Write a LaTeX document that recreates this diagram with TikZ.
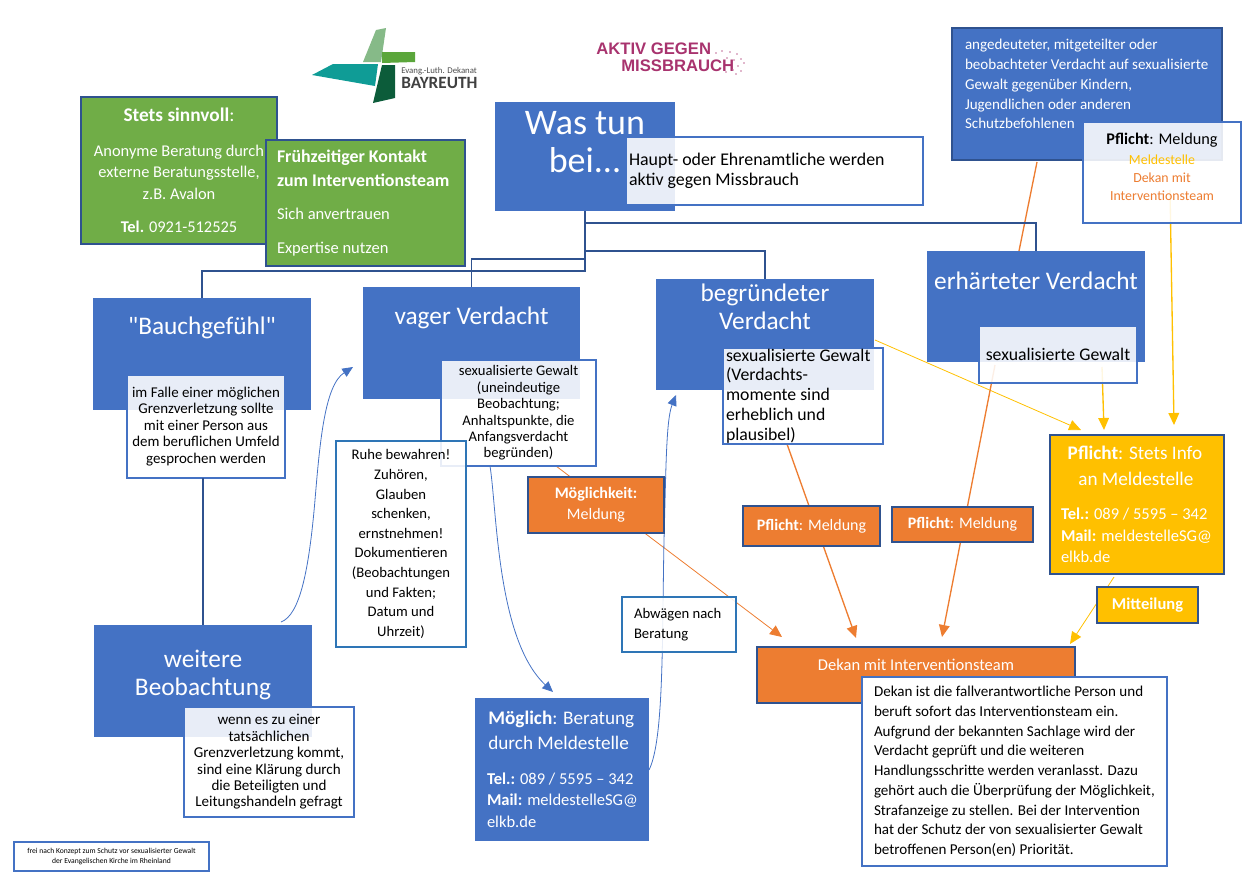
\documentclass[tikz,border=0pt]{standalone}
\usepackage{fontspec}
\setmainfont{Carlito}[Ligatures=TeXOff]
\usetikzlibrary{arrows.meta,backgrounds}

\definecolor{boxblue}{HTML}{4472C4}
\definecolor{darkblue}{HTML}{2F528F}
\definecolor{midblue}{HTML}{2E75B6}
\definecolor{boxgreen}{HTML}{70AD47}
\definecolor{boxorange}{HTML}{ED7D31}
\definecolor{boxyellow}{HTML}{FFC000}
\definecolor{aktivred}{HTML}{A8336E}
\definecolor{logolight}{HTML}{86BA88}
\definecolor{logogreen}{HTML}{5BA63B}
\definecolor{logoteal}{HTML}{0F9C96}
\definecolor{logodark}{HTML}{0C5C3A}
\newcommand{\fs}[2]{\fontsize{#1}{#2}\selectfont}

\tikzset{
  box/.style={anchor=north west, inner ysep=0pt, inner xsep=3pt, outer sep=0pt, align=center},
  boxsize/.style 2 args={minimum width=#1*.75pt, minimum height=#2*.75pt},
  lefttext/.style 2 args={inner xsep=#2*.75pt, text width=(#1-2*#2)*.75pt, align=flush left},
  bluebox/.style={box, fill=boxblue, text=white},
  greenbox/.style={box, fill=boxgreen, draw=darkblue, line width=1pt, text=white},
  orangebox/.style={box, fill=boxorange, draw=darkblue, line width=1pt, text=white},
  yellowbox/.style={box, fill=boxyellow, draw=darkblue, line width=1pt, text=white},
  whitebox/.style={box, fill=white, fill opacity=.88, text opacity=1, draw=boxblue, draw opacity=1, line width=1pt},
  notebox/.style={whitebox, draw=midblue},
  treeline/.style={draw=darkblue, line width=1pt},
  curveline/.style={draw=boxblue, line width=.6pt, -{Triangle[length=8pt,width=7pt]}},
  orangeline/.style={draw=boxorange, line width=1pt, -{Triangle[length=9pt,width=8pt]}},
  thinorange/.style={orangeline, line width=.6pt},
  yellowline/.style={draw=boxyellow, line width=1pt, -{Triangle[length=9pt,width=8pt]}},
  thinyellow/.style={yellowline, line width=.6pt},
}

\begin{document}
\begin{tikzpicture}[x=.75pt, y=-.75pt]
  \useasboundingbox (0,0) rectangle (1249,878);

  % Logos
  \fill[logolight] (363,62) -- (381,62) -- (386,28) -- (376,30) -- cycle;
  \fill[logogreen] (382,52) -- (415,52) -- (415,62) -- (382,63) -- cycle;
  \fill[logoteal] (312,75) -- (333,64) -- (378,64) -- (375,86) -- cycle;
  \fill[logodark] (382,65) -- (395,65) -- (395,98) -- (373,103) -- cycle;
  \node[anchor=west, inner sep=0pt, text=black!70, font=\fs{6.6}{7}] (dekanat) at (401,71.5) {Evang.-Luth. Dekanat};
  \node[anchor=west, inner sep=0pt, text=black!75, font=\fs{12.9}{13}\bfseries] (bayreuth) at (401,83) {BAYREUTH};
  \node[anchor=west, inner sep=0pt, text=aktivred, font=\fontspec{Liberation Sans}\fs{12.5}{13}\bfseries] (aktiv) at (596,49) {AKTIV GEGEN};
  \node[anchor=west, inner sep=0pt, text=aktivred, font=\fontspec{Liberation Sans}\fs{12.5}{13}\bfseries] (miss) at (621,65.5) {MISSBRAUCH};
  \foreach \x/\y in {716/53,722/51,730/52,737/54,727/58,734/60,741/59,738/66,744/63,733/70,726/72,736/74,741/71} {
    \fill[aktivred!70] (\x,\y) circle (.8);
  }

  % Green boxes
  \node[greenbox, boxsize={196}{147}, font=\fs{12.3}{16}] (sinnvoll) at (81,97) {%
    {\fs{14.5}{16}\textbf{Stets sinnvoll}:}\\[10pt]
    Anonyme Beratung durch\\
    externe Beratungsstelle,\\
    z.B. Avalon\\[9pt]
    \textbf{Tel.} 0921-512525};
  \node[greenbox, boxsize={199}{126}, lefttext={199}{11}, font=\fs{12.4}{18}] (kontakt) at (266,140) {%
    {\fs{13.4}{18}\textbf{Frühzeitiger Kontakt}}\\
    {\fs{13.4}{18}\textbf{zum Interventionsteam}}\\[7pt]
    Sich anvertrauen\\[7pt]
    Expertise nutzen};

  % Main question
  \node[bluebox, boxsize={180}{109}, font=\fs{27}{29}] (was) at (495,102) {Was tun\\bei...\\[-7pt]\mbox{}};
  \node[whitebox, boxsize={297}{68}, lefttext={297}{3}, font=\fs{13.4}{15}] (haupt) at (626,137) {%
    Haupt- oder Ehrenamtliche werden\\aktiv gegen Missbrauch};

  % Top right
  \node[bluebox, draw=darkblue, line width=1pt, boxsize={270}{132}, lefttext={270}{13}, font=\fs{11.3}{14.8}] (andeutung) at (952,28) {%
    angedeuteter, mitgeteilter oder\\
    beobachteter Verdacht auf sexualisierte\\
    Gewalt gegenüber Kindern,\\
    Jugendlichen oder anderen\\
    Schutzbefohlenen\\\mbox{}};
  \node[whitebox, boxsize={158}{101}, font=\fs{10.4}{13.5}] (pflichtoben) at (1083,122) {%
    {\fs{12.2}{15}\textbf{Pflicht}: Meldung}\\[1.5pt]
    \textcolor{boxyellow}{Meldestelle}\\
    \textcolor{boxorange}{Dekan mit}\\
    \textcolor{boxorange}{Interventionsteam}\\[-5pt]\mbox{}};

  % Four levels
  \node[bluebox, boxsize={218}{112}, font=\fs{19}{23}] (bauch) at (93,298) {"Bauchgefühl"\\[19pt]\mbox{}};
  \node[whitebox, boxsize={158}{103}, font=\fs{11.2}{12.4}] (bauchtxt) at (127,375) {%
    im Falle einer möglichen\\
    Grenzverletzung sollte\\
    mit einer Person aus\\
    dem beruflichen Umfeld\\
    gesprochen werden};

  \node[bluebox, boxsize={217}{112}, font=\fs{19}{23}] (vager) at (363,287) {vager Verdacht\\[18pt]\mbox{}};
  \node[whitebox, boxsize={155}{106}, font=\fs{11}{12.3}] (vagertxt) at (441,360) {%
    sexualisierte Gewalt\\
    (uneindeutige\\
    Beobachtung;\\
    Anhaltspunkte, die\\
    Anfangsverdacht\\
    begründen)};

  \node[bluebox, boxsize={218}{111}, font=\fs{19}{21}] (begr) at (656,279) {begründeter\\Verdacht\\[20pt]\mbox{}};
  \node[whitebox, boxsize={160}{96}, lefttext={160}{3}, font=\fs{13.3}{14.8}] (begrtxt) at (723,348) {%
    sexualisierte Gewalt\\
    (Verdachts-\\
    momente sind\\
    erheblich und\\
    plausibel)};

  \node[bluebox, boxsize={218}{111}, font=\fs{19}{23}] (erh) at (927,251) {erhärteter Verdacht\\[16pt]\mbox{}};
  \node[whitebox, boxsize={158}{57}, font=\fs{13.3}{15}] (erhtxt) at (979,326) {sexualisierte Gewalt};

  % Lower left
  \node[bluebox, boxsize={218}{112}, font=\fs{19}{21}] (weitere) at (94,625) {weitere\\Beobachtung\\[-9pt]\mbox{}};
  \node[whitebox, boxsize={170}{110}, font=\fs{11.3}{12.3}] (weiteretxt) at (184,707) {%
    wenn es zu einer\\
    tatsächlichen\\
    Grenzverletzung kommt,\\
    sind eine Klärung durch\\
    die Beteiligten und\\
    Leitungshandeln gefragt};
  \node[notebox, boxsize={130}{206}, font=\fs{11}{14.7}] (ruhe) at (336,441) {%
    Ruhe bewahren!\\
    Zuhören,\\
    Glauben\\
    schenken,\\
    ernstnehmen!\\
    Dokumentieren\\
    (Beobachtungen\\
    und Fakten;\\
    Datum und\\
    Uhrzeit)};

  % Reports
  \node[orangebox, boxsize={136}{56}, font=\fs{12}{16}] (moeglichkeit) at (528,477) {\textbf{Möglichkeit:}\\Meldung};
  \node[notebox, boxsize={114}{55}, lefttext={114}{12}, font=\fs{11}{14.7}] (abwaegen) at (622,597) {Abwägen nach\\Beratung};
  \node[orangebox, boxsize={137}{40}, font=\fs{12}{14}] (pflichteins) at (743,506) {\textbf{Pflicht}: Meldung};
  \node[orangebox, boxsize={141}{35}, font=\fs{12}{14}] (pflichtzwei) at (892,507) {\textbf{Pflicht}: Meldung};
  \node[yellowbox, boxsize={174}{139}, lefttext={174}{11}, font=\fs{12.4}{16}] (stelle) at (1050,435) {%
    \hspace*{5pt}{\fs{14.4}{18.7}\textbf{Pflicht}: Stets Info}\\[3pt]
    \hspace*{13pt}{\fs{14.4}{18.7}an Meldestelle}\\[10pt]
    \textbf{Tel.:} 089 / 5595 – 342\\
    \textbf{Mail:} meldestelleSG@\\
    elkb.de};
  \node[yellowbox, boxsize={101}{36}, font=\fs{12.4}{14}] (mitteilung) at (1097,587) {\textbf{Mitteilung}};
  \node[bluebox, draw=boxblue, boxsize={173}{142}, lefttext={173}{12}, font=\fs{12.4}{16}] (beratung) at (475,698) {%
    \hspace*{1pt}{\fs{14.4}{18.7}\textbf{Möglich}: Beratung}\\[3pt]
    \hspace*{1pt}{\fs{14.4}{18.7}durch Meldestelle}\\[10pt]
    \textbf{Tel.:} 089 / 5595 – 342\\
    \mbox{\textbf{Mail:} meldestelleSG@}\\
    elkb.de};

  % Dekan
  \node[orangebox, boxsize={318}{56}, font=\fs{12.4}{14}] (dekan) at (757,647) {Dekan mit Interventionsteam\\[2pt]\mbox{}};
  \node[whitebox, fill opacity=1, boxsize={305}{189}, lefttext={305}{12}, font=\fs{11.3}{14.8}] (dekantxt) at (862,677) {%
    Dekan ist die fallverantwortliche Person und\\
    beruft sofort das Interventionsteam ein.\\
    Aufgrund der bekannten Sachlage wird der\\
    Verdacht geprüft und die weiteren\\
    Handlungsschritte werden veranlasst. Dazu\\
    gehört auch die Überprüfung der Möglichkeit,\\
    Strafanzeige zu stellen. Bei der Intervention\\
    hat der Schutz der von sexualisierter Gewalt\\
    betroffenen Person(en) Priorität.};

  \node[whitebox, fill opacity=1, boxsize={195}{29}, font=\fs{5.7}{7}] (quelle) at (14,842) {%
    frei nach Konzept zum Schutz vor sexualisierter Gewalt\\
    der Evangelischen Kirche im Rheinland};

  % Tree from the question
  \draw[treeline] (was.south) -- ++(0,12) -| (erh.north);
  \draw[treeline] (was.south) -- ++(0,40) -| (begr.north);
  \draw[treeline] (was.south) -- ++(0,48) -| (vager.north);
  \draw[treeline] (was.south) -- ++(0,60) -| (bauch.north);
  \draw[treeline] (bauchtxt.south -| weitere.north) -- (weitere.north);

  % Connectors behind the boxes
  \begin{scope}[on background layer]
    \draw[draw=boxorange, line width=1pt] ([shift={(-50,2)}]andeutung.south) -- ([shift={(-17,0)}]erh.north);
    \draw[yellowline] ([shift={(8,-33)}]pflichtoben.south) -- ([shift={(37,-10)}]stelle.north);
    \draw[yellowline] ([shift={(-35,-16)}]erhtxt.south east) -- ([shift={(-33,-5)}]stelle.north);
    \draw[thinyellow] ([shift={(1,-50)}]begr.south east) -- ([shift={(31,-5)}]stelle.north west);
    \draw[orangeline] ([shift={(64,0)}]begrtxt.south west) -- ([shift={(99,-9)}]dekan.north west);
    \draw[orangeline] ([shift={(16,-18)}]erhtxt.south west) -- ([shift={(-133,-10)}]dekan.north east);
    \draw[thinorange] ([shift={(115,0)}]vagertxt.south west) -- ([shift={(25,-10)}]dekan.north west);
    \draw[thinyellow] ([shift={(-23,3)}]stelle.south) -- ([shift={(-5,-3)}]dekan.north east);
    % Curved arrows
    \draw[curveline] ([shift={(187,-3)}]weitere.north west) .. controls (300,615) and (309,570) .. (315,500)
      .. controls (320,440) and (325,385) .. ([shift={(-10,-32)}]vager.south west);
    \draw[curveline] ([shift={(49,0)}]vagertxt.south west) .. controls (497,510) and (497,640) .. ([shift={(78,-6)}]beratung.north west);
    \draw[curveline] ([shift={(1,-70)}]beratung.south east) .. controls (664,740) and (662,640) .. (664,540)
      .. controls (666,470) and (666,420) .. ([shift={(20,5)}]begr.south west);
  \end{scope}
\end{tikzpicture}
\end{document}
